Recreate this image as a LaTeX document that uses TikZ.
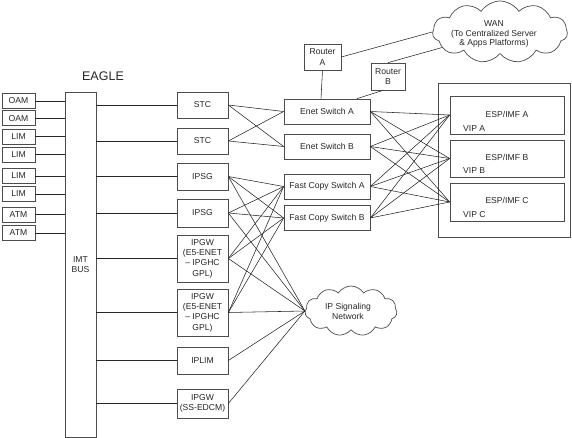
\documentclass[tikz,border=0pt]{standalone}
\usepackage{fontspec}
\setmainfont{Liberation Sans}
\usetikzlibrary{shapes.symbols}
\begin{document}
\begin{tikzpicture}[x=1pt,y=-1pt,
  box/.style={draw=black!70, line width=0.7pt, rectangle, inner sep=0pt, align=center,
    font=\fontsize{8.6}{10.4}\selectfont, text=black!85},
  txt/.style={inner sep=0pt, align=center, font=\fontsize{8.6}{10.4}\selectfont, text=black!85},
  lbox/.style={box, minimum width=33pt, minimum height=15pt},
  mbox/.style={box, minimum width=51pt},
  sbox/.style={box, minimum width=86pt, minimum height=25pt},
  ebox/.style={box, minimum width=114pt},
  cloudshape/.style={draw=black!70, line width=0.7pt, cloud, cloud puffs=11, cloud puff arc=115,
    aspect=2.0, inner sep=0pt, align=center},
  link/.style={draw=black!85, line width=0.55pt}]
\useasboundingbox (0,0) rectangle (572,438);

% title
\node[txt, font=\fontsize{12.5}{14}\selectfont] (eagle) at (103,76) {EAGLE};

% left cards
\node[lbox] (oam1) at (18.5,100.8) {OAM};
\node[lbox] (oam2) at (18.5,118.3) {OAM};
\node[lbox] (lim1) at (18.5,136.5) {LIM};
\node[lbox] (lim2) at (18.5,154.5) {LIM};
\node[lbox] (lim3) at (18.5,176) {LIM};
\node[lbox] (lim4) at (18.5,194) {LIM};
\node[lbox] (atm1) at (18.5,214.5) {ATM};
\node[lbox] (atm2) at (18.5,233) {ATM};

% IMT bus
\node[box, minimum width=31pt, minimum height=345pt] (imt) at (80.5,264.5) {IMT\\BUS};

% middle cards
\node[mbox, minimum height=26pt] (stc1) at (202.5,105) {STC};
\node[mbox, minimum height=26pt] (stc2) at (202.5,141) {STC};
\node[mbox, minimum height=27pt] (ipsg1) at (202.5,176.5) {IPSG};
\node[mbox, minimum height=28pt] (ipsg2) at (202.5,213) {IPSG};
\node[mbox, minimum height=47pt] (ipgw1) at (202.5,258.5) {IPGW\\(E5-ENET\\– IPGHC\\GPL)};
\node[mbox, minimum height=47pt] (ipgw2) at (202.5,312.5) {IPGW\\(E5-ENET\\– IPGHC\\GPL)};
\node[mbox, minimum height=27pt] (iplim) at (202.5,360.5) {IPLIM};
\node[mbox, minimum height=29pt] (ssedcm) at (202.5,403.5) {IPGW\\(SS-EDCM)};

% switches
\node[sbox] (enetA) at (327,111.5) {Enet Switch A};
\node[sbox] (enetB) at (327,146.5) {Enet Switch B};
\node[sbox] (fcA) at (327,186.5) {Fast Copy Switch A};
\node[sbox] (fcB) at (327,218) {Fast Copy Switch B};

% routers
\node[box, minimum width=37pt, minimum height=26pt] (routerA) at (322.5,57) {Router\\A};
\node[box, minimum width=34pt, minimum height=27pt] (routerB) at (388,76.5) {Router\\B};

% clouds
\node[cloudshape, minimum width=135pt, minimum height=62pt] (wan) at (500,32) {};
\node[txt, font=\fontsize{8.6}{9.3}\selectfont] (wantxt) at (494,34) {WAN\\(To Centralized Server\\\& Apps Platforms)};
\node[cloudshape, minimum width=92pt, minimum height=50pt] (ipsn) at (351,311) {};
\node[txt, font=\fontsize{8.6}{9.8}\selectfont] (ipsntxt) at (348,311.5) {IP Signaling\\Network};

% ESP/IMF
\node[box, minimum width=132pt, minimum height=154pt] (espbox) at (504,160) {};
\node[ebox, minimum height=38pt] (espA) at (507,115) {};
\node[ebox, minimum height=37pt] (espB) at (507,158.5) {};
\node[ebox, minimum height=38pt] (espC) at (507,202) {};
\node[txt] (espAt) at (507,114) {ESP/IMF A};
\node[txt, anchor=west] (vipA) at (463,128.3) {VIP A};
\node[txt] (espBt) at (507,157.7) {ESP/IMF B};
\node[txt, anchor=west] (vipB) at (463,171) {VIP B};
\node[txt] (espCt) at (507,200.7) {ESP/IMF C};
\node[txt, anchor=west] (vipC) at (463,215) {VIP C};

% left cards to IMT bus
\foreach \n in {oam1,oam2,lim1,lim2,lim3,lim4,atm1,atm2}
  \draw[link] (\n.east) -- (\n.east -| imt.west);
% IMT bus to middle cards
\foreach \n in {stc1,stc2,ipsg1,ipsg2,ipgw1,ipgw2,iplim,ssedcm}
  \draw[link] (imt.east |- \n.west) -- (\n.west);

% STC to Enet switches
\foreach \s in {stc1,stc2}
  \foreach \t in {enetA,enetB}
    \draw[link] (\s.east) -- (\t.west);
% IPSG / IPGW to fast copy switches
\foreach \s in {ipsg1,ipsg2,ipgw1,ipgw2}
  \foreach \t in {fcA,fcB}
    \draw[link] (\s.east) -- (\t.west);
% to IP signaling network
\foreach \s in {ipsg1,ipsg2,ipgw1,ipgw2,iplim,ssedcm}
  \draw[link] (\s.east) -- (ipsn.west);

% switches to ESP/IMF
\foreach \s in {enetA,enetB,fcA,fcB}
  \foreach \t in {espA,espB,espC}
    \draw[link] (\s.east) -- (\t.west);

% routers
\draw[link] (routerA.south) -- ([xshift=-6pt]enetA.north);
\draw[link] ([xshift=-5pt]routerB.south) -- ([xshift=30pt]enetA.north);
\draw[link] (routerA.east) -- (wan.180);
\draw[link] (routerB.north) -- (wan.195);
\end{tikzpicture}
\end{document}
